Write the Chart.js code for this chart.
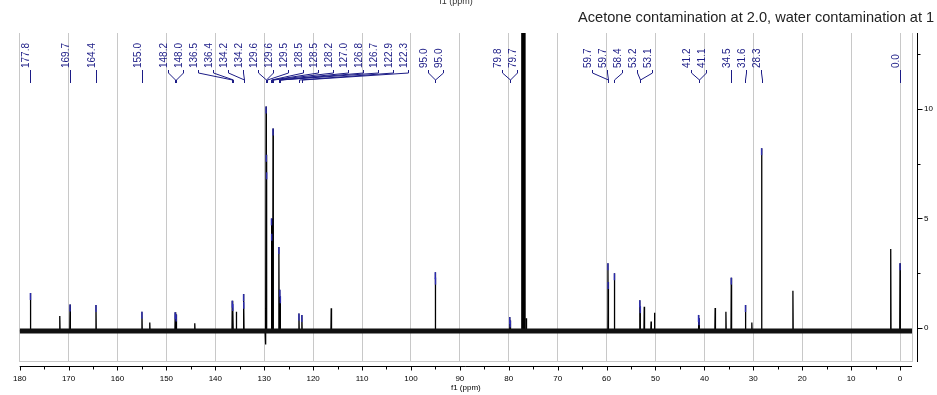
<!DOCTYPE html>
<html>
<head>
<meta charset="utf-8">
<script src="https://cdn.jsdelivr.net/npm/chart.js@4"></script>
<style>
  html, body { margin: 0; padding: 0; background: #fff; }
  #nmrChart { display: block; }
</style>
</head>
<body>
<canvas id="nmrChart" width="937" height="395"></canvas>
<script>
/////////////////////////////////////////////////////////
// 13C spectrum, values (ppm / intensity)
const pickPpm = [177.8, 169.7, 164.4, 155.0, 148.2, 148.0, 136.53, 136.4, 134.22, 134.18,
  129.62, 129.58, 129.5, 128.52, 128.48, 128.2, 127.0, 126.8, 126.7, 122.9, 122.3,
  95.02, 94.98, 79.8, 79.7, 59.72, 59.68, 58.4, 53.2, 53.1, 41.2, 41.1, 34.5, 31.6, 28.3, 0.0];
const pickHeight = [1.6, 1.08, 1.05, 0.74, 0.72, 0.62, 1.25, 1.1, 1.55, 1.2,
  10.1, 7.9, 7.1, 5.0, 4.3, 9.1, 3.7, 1.75, 1.45, 0.67, 0.6,
  2.55, 2.3, 0.5, 0.35, 2.95, 2.1, 2.5, 1.27, 1.0, 0.6, 0.45, 2.3, 1.05, 8.2, 2.95];

// peaks without a label (impurities, CDCl3 triplet, acetone)
const otherPpm = [171.8, 153.4, 144.2, 135.7, 129.75, 116.3, 77.36, 77.04, 76.72, 76.4,
  52.3, 50.9, 50.2, 37.8, 35.6, 30.3, 21.9, 1.9];
const otherHeight = [0.55, 0.25, 0.22, 0.74, -0.75, 0.9, 40, 40, 40, 0.45,
  0.97, 0.3, 0.7, 0.92, 0.74, 0.25, 1.7, 3.6];

const baseLevel = -0.13;
const xTicks = [180, 170, 160, 150, 140, 130, 120, 110, 100, 90, 80, 70, 60, 50, 40, 30, 20, 10, 0];
const yTicks = [0, 5, 10];
const axisTitle = "f1 (ppm)";
const noteText = "Acetone contamination at 2.0, water contamination at 1";

const navy = "#1c1c86";
const tickFont = "'Liberation Sans Narrow', 'Liberation Sans', sans-serif";

function spectrumPoints() {
  const peaks = [];
  pickPpm.forEach((p, i) => peaks.push([p, pickHeight[i]]));
  otherPpm.forEach((p, i) => peaks.push([p, otherHeight[i]]));
  peaks.sort((a, b) => b[0] - a[0]);
  const pts = [{ x: 180, y: baseLevel }];
  peaks.forEach(([p, h]) => {
    pts.push({ x: p + 0.06, y: baseLevel }, { x: p, y: h }, { x: p - 0.06, y: baseLevel });
  });
  pts.push({ x: -2.45, y: baseLevel });
  return pts;
}

// spread labels left to right: clusters centred on their peaks, never overlapping
function spreadLabels(ideal, gap, join) {
  const clusters = [];
  ideal.forEach((x) => {
    const c = clusters[clusters.length - 1];
    const prev = clusters[clusters.length - 2];
    if (c && x < c.start + (c.n - 1) * gap + join) {
      c.n += 1;
      c.sum += x;
      let start = c.sum / c.n - (c.n - 1) * gap / 2;
      if (prev) start = Math.max(start, prev.start + (prev.n - 1) * gap + gap);
      c.start = start;
    } else {
      let start = x;
      if (c) start = Math.max(start, c.start + (c.n - 1) * gap + gap);
      clusters.push({ n: 1, sum: x, start: start });
    }
  });
  const out = [];
  clusters.forEach((c) => {
    for (let k = 0; k < c.n; k++) out.push(c.start + k * gap);
  });
  return out;
}

const peakLabels = {
  id: "peakLabels",
  afterDatasetsDraw(chart) {
    const { ctx, chartArea: a, scales: { x, y } } = chart;
    ctx.save();
    // blue pick marks on peak tops
    ctx.strokeStyle = "rgba(50, 50, 200, 0.85)";
    ctx.lineWidth = 1.5;
    pickPpm.forEach((p, i) => {
      const px = x.getPixelForValue(p);
      const top = y.getPixelForValue(pickHeight[i]);
      ctx.beginPath();
      ctx.moveTo(px, top);
      ctx.lineTo(px, top + 7);
      ctx.stroke();
    });

    const order = pickPpm.map((p, i) => i).sort((i, j) => pickPpm[j] - pickPpm[i]);
    const ideal = order.map((i) => x.getPixelForValue(pickPpm[i]));
    const pos = spreadLabels(ideal, 15, 16);

    ctx.strokeStyle = navy;
    ctx.fillStyle = navy;
    ctx.lineWidth = 1;
    ctx.font = "10px 'Liberation Sans', Arial, sans-serif";
    order.forEach((i, k) => {
      const L = Math.round(pos[k]) + 0.5;
      const P = Math.round(ideal[k]) + 0.5;
      ctx.beginPath();
      ctx.moveTo(L, a.top + 37);
      ctx.lineTo(L, a.top + 40);
      ctx.lineTo(P, a.top + 47);
      ctx.lineTo(P, a.top + 50);
      ctx.stroke();
      ctx.save();
      ctx.translate(L - 4, a.top + 35);
      ctx.rotate(-Math.PI / 2);
      ctx.textAlign = "left";
      ctx.textBaseline = "middle";
      ctx.fillText(pickPpm[i].toFixed(1), 0, 0);
      ctx.restore();
    });
    ctx.restore();
  },
  afterDraw(chart) {
    const { ctx, chartArea: a, scales: { x, y } } = chart;
    ctx.save();
    // plot frame (grey) on the right
    ctx.strokeStyle = "#c8c8c8";
    ctx.lineWidth = 1;
    ctx.beginPath();
    ctx.moveTo(a.right + 0.5, a.top);
    ctx.lineTo(a.right + 0.5, a.bottom);
    ctx.stroke();

    // black axes, set off from the frame
    ctx.strokeStyle = "#000";
    const by = Math.round(a.bottom) + 5.5;
    const rx = Math.round(a.right) + 5.5;
    ctx.beginPath();
    ctx.moveTo(a.left, by);
    ctx.lineTo(a.right, by);
    ctx.moveTo(rx, a.top);
    ctx.lineTo(rx, a.bottom + 1);
    xTicks.forEach((v, i) => {
      const px = Math.round(x.getPixelForValue(v)) + 0.5;
      ctx.moveTo(px, by);
      ctx.lineTo(px, by + 4);
      if (i < xTicks.length - 1) {
        const mx = Math.round(x.getPixelForValue((v + xTicks[i + 1]) / 2)) + 0.5;
        ctx.moveTo(mx, by);
        ctx.lineTo(mx, by + 3);
      }
    });
    yTicks.forEach((v) => {
      const py = Math.round(y.getPixelForValue(v)) + 0.5;
      ctx.moveTo(rx, py);
      ctx.lineTo(rx + 5, py);
      const my = Math.round(y.getPixelForValue(v + 2.5)) + 0.5;
      ctx.moveTo(rx, my);
      ctx.lineTo(rx + 3, my);
    });
    ctx.stroke();

    // top axis title, mostly cut off
    ctx.fillStyle = "#333";
    ctx.font = "9px 'Liberation Sans', Arial, sans-serif";
    ctx.textAlign = "center";
    ctx.textBaseline = "middle";
    ctx.fillText(axisTitle, 456, 2);

    ctx.fillStyle = "#222";
    ctx.font = "14.6px 'Liberation Sans', Arial, sans-serif";
    ctx.textAlign = "left";
    ctx.textBaseline = "alphabetic";
    ctx.fillText(noteText, 578, 21.5);
    ctx.restore();
  },
};

function spectrum() {
  const data = {
    datasets: [
      {
        label: "noise",
        data: [{ x: 180, y: baseLevel }, { x: -2.45, y: baseLevel }],
        borderColor: "#111",
        borderWidth: 5,
        pointRadius: 0,
      },
      {
        label: "13C",
        data: spectrumPoints(),
        borderColor: "#000",
        borderWidth: 1.3,
        pointRadius: 0,
        tension: 0,
      },
    ],
  };

  const config = {
    type: "line",
    data: data,
    options: {
      responsive: false,
      animation: false,
      devicePixelRatio: 1,
      layout: { padding: { left: 18, top: 33, right: 0, bottom: 0 } },
      plugins: { legend: { display: false }, tooltip: { enabled: false } },
      scales: {
        x: {
          type: "linear",
          reverse: true,
          min: -2.45,
          max: 180,
          afterBuildTicks: (s) => { s.ticks = xTicks.map((v) => ({ value: v })); },
          afterFit: (s) => { s.height = 34; },
          grid: { color: "#c8c8c8", drawTicks: false },
          border: { color: "#c8c8c8" },
          ticks: { color: "#000", padding: 13, maxRotation: 0, autoSkip: false, font: { family: tickFont, size: 8 } },
          title: { display: true, text: axisTitle, color: "#000", padding: { top: 0, bottom: 2 }, font: { family: tickFont, size: 8 } },
        },
        y: {
          type: "linear",
          position: "right",
          min: -1.5,
          max: 13.45,
          afterBuildTicks: (s) => { s.ticks = yTicks.map((v) => ({ value: v })); },
          afterFit: (s) => { s.width = 25; },
          grid: { display: false, drawTicks: false },
          border: { display: false },
          ticks: { color: "#000", padding: 12, font: { family: tickFont, size: 8 } },
        },
      },
    },
    plugins: [peakLabels],
  };

  const ctx = document.getElementById("nmrChart").getContext("2d");
  new Chart(ctx, config);
}
spectrum();
</script>
</body>
</html>
